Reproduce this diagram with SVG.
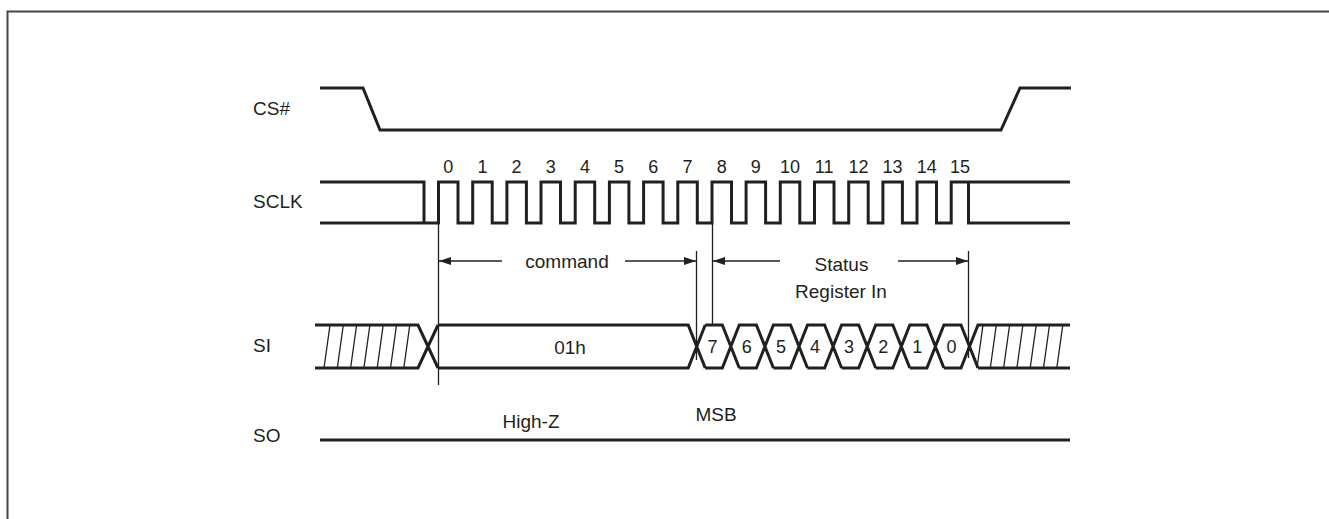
<svg xmlns="http://www.w3.org/2000/svg" width="1329" height="519" viewBox="0 0 1329 519">
<defs>
<marker id="ah" viewBox="0 0 12 8" refX="12" refY="4" markerWidth="12" markerHeight="8" markerUnits="userSpaceOnUse" orient="auto-start-reverse">
<path d="M0,0 L12,4 L0,8 Z" fill="#231f20"/>
</marker>
<style>
.sig{fill:none;stroke:#231f20;stroke-width:3;stroke-linejoin:miter}
.thin{fill:none;stroke:#231f20;stroke-width:1.3}
.lbl{font-family:"Liberation Sans",Arial,sans-serif;font-size:19px;fill:#231f20}
.num{font-family:"Liberation Sans",Arial,sans-serif;font-size:18px;fill:#231f20;text-anchor:middle}
.mid{text-anchor:middle}
</style>
</defs>
<rect width="1329" height="519" fill="#fff"/>
<path d="M7.5,519 V11.5 H1329" fill="none" stroke="#444" stroke-width="2"/>

<g id="cs">
<text class="lbl" x="253" y="115">CS#</text>
<path class="sig" d="M320,88 H363 L380,130 H1001 L1020,88 H1071"/>
</g>

<g id="sclk">
<text class="lbl" x="253" y="208">SCLK</text>
<path class="sig" d="M320,182 H424 V223 M320,223 H438.5 V182 H458 V223 H472.7 V182 H492.2 V223 H506.9 V182 H526.4 V223 H541 V182 H560.5 V223 H575.2 V182 H594.7 V223 H609.4 V182 H628.9 V223 H643.6 V182 H663.1 V223 H677.8 V182 H697.3 V223 H712 V182 H731.5 V223 H746.1 V182 H765.6 V223 H780.3 V182 H799.8 V223 H814.5 V182 H834 V223 H848.7 V182 H868.2 V223 H882.9 V182 H902.4 V223 H917 V182 H936.5 V223 H951.2 V182 H1070 M968.5,182 V223 H1070"/>
<text class="num" x="448.2" y="173">0</text>
<text class="num" x="482.4" y="173">1</text>
<text class="num" x="516.6" y="173">2</text>
<text class="num" x="550.7" y="173">3</text>
<text class="num" x="584.9" y="173">4</text>
<text class="num" x="619.1" y="173">5</text>
<text class="num" x="653.3" y="173">6</text>
<text class="num" x="687.5" y="173">7</text>
<text class="num" x="721.7" y="173">8</text>
<text class="num" x="755.8" y="173">9</text>
<text class="num" x="790" y="173">10</text>
<text class="num" x="824.2" y="173">11</text>
<text class="num" x="858.4" y="173">12</text>
<text class="num" x="892.6" y="173">13</text>
<text class="num" x="926.7" y="173">14</text>
<text class="num" x="960" y="173">15</text>
</g>

<g id="si">
<text class="lbl" x="253" y="352">SI</text>
<path class="sig" d="M315,325 H418 L438,368 M315,368 H418 L438,325"/>
<path class="thin" d="M324,368 L330,325 M337.3,368 L343.3,325 M350.6,368 L356.6,325 M363.9,368 L369.9,325 M377.2,368 L383.2,325 M390.5,368 L396.5,325 M403.8,368 L409.8,325"/>
<path class="sig" d="M438,325 H688.2 L705.2,368 M438,368 H688.2 L705.2,325"/>
<path class="sig" d="M705.2,325 H722.3 L739.3,368 M705.2,368 H722.3 L739.3,325 H756.4 L773.4,368 M739.3,368 H756.4 L773.4,325 H790.5 L807.5,368 M773.4,368 H790.5 L807.5,325 H824.6 L841.6,368 M807.5,368 H824.6 L841.6,325 H858.7 L875.7,368 M841.6,368 H858.7 L875.7,325 H892.8 L909.8,368 M875.7,368 H892.8 L909.8,325 H926.9 L943.9,368 M909.8,368 H926.9 L943.9,325 H961 L978,368 M943.9,368 H961 L978,325 H1070 M978,368 H1070"/>
<path class="thin" d="M977,368 L983,325 M990.3,368 L996.3,325 M1003.6,368 L1009.6,325 M1016.9,368 L1022.9,325 M1030.2,368 L1036.2,325 M1043.5,368 L1049.5,325 M1056.8,368 L1062.8,325"/>
<text class="lbl mid" x="570" y="354">01h</text>
<text class="num" x="712.5" y="353">7</text>
<text class="num" x="746.8" y="353">6</text>
<text class="num" x="780.9" y="353">5</text>
<text class="num" x="815" y="353">4</text>
<text class="num" x="849.1" y="353">3</text>
<text class="num" x="883.2" y="353">2</text>
<text class="num" x="917.3" y="353">1</text>
<text class="num" x="951.4" y="353">0</text>
</g>

<g id="so">
<text class="lbl" x="253" y="442">SO</text>
<path class="sig" d="M320,440 H1070"/>
<text class="lbl mid" x="531" y="428">High-Z</text>
<text class="lbl mid" x="716" y="421">MSB</text>
</g>

<g id="connectors">
<path class="thin" d="M438.5,223 V385 M696.5,251 V360 M712.5,223 V325 M968.5,251 V358"/>
<path class="thin" d="M502,261 H439" marker-end="url(#ah)"/>
<path class="thin" d="M625,261 H696" marker-end="url(#ah)"/>
<path class="thin" d="M780,261 H713" marker-end="url(#ah)"/>
<path class="thin" d="M898,261 H968" marker-end="url(#ah)"/>
<text class="lbl mid" x="567" y="268">command</text>
<text class="lbl mid" x="841.5" y="271">Status</text>
<text class="lbl mid" x="841" y="298">Register In</text>
</g>
</svg>
